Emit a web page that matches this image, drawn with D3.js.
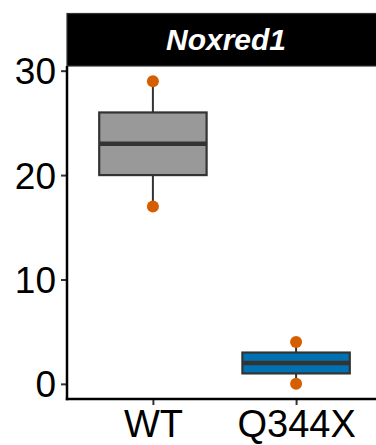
<!DOCTYPE html>
<html><head><meta charset="utf-8">
<script src="https://cdn.jsdelivr.net/npm/d3@7"></script>
<style>body{margin:0;background:#fff}svg{display:block}</style>
</head><body>
<svg id="c" width="376" height="445"></svg>
<script>
const categories = ["WT", "Q344X"];
const lowerWhisker = [17, 0];
const q1 = [20, 1];
const median = [23, 2];
const q3 = [26, 3];
const upperWhisker = [29, 4];
const points = [[29, 17], [4, 0]];
const fills = ["#999999", "#0072B2"];
const yTicks = [0, 10, 20, 30];
const stripLabel = "Noxred1";

(function () {
const svg = d3.select("#c");
const FAM = "'Liberation Sans', Arial, Helvetica, sans-serif";
const pLeft = 67, pRight = 382, pTop = 66, pBottom = 399;
const x = d3.scaleLinear().domain([0.4, 2.6]).range([pLeft, pRight]);
const y = d3.scaleLinear().domain([-1.45, 30.45]).range([pBottom, pTop]);

// strip
svg.append("rect").attr("x", pLeft).attr("y", 13.5).attr("width", pRight - pLeft).attr("height", pTop - 13.5)
  .attr("fill", "#000").attr("stroke", "#333").attr("stroke-width", 1.2);
svg.append("text").attr("x", 226).attr("y", 50).attr("text-anchor", "middle")
  .attr("fill", "#fff")
  .style("font-family", FAM).style("font-size", "30px").style("font-weight", "bold").style("font-style", "italic")
  .text(stripLabel);

const bw = 0.75;
categories.forEach((c, i) => {
  const cx = x(i + 1);
  const g = svg.append("g");
  g.append("line").attr("x1", cx).attr("x2", cx).attr("y1", y(upperWhisker[i])).attr("y2", y(q3[i]))
    .attr("stroke", "#333").attr("stroke-width", 2);
  g.append("line").attr("x1", cx).attr("x2", cx).attr("y1", y(q1[i])).attr("y2", y(lowerWhisker[i]))
    .attr("stroke", "#333").attr("stroke-width", 2);
  g.append("rect").attr("x", x(i + 1 - bw / 2)).attr("width", x(i + 1 + bw / 2) - x(i + 1 - bw / 2))
    .attr("y", y(q3[i])).attr("height", y(q1[i]) - y(q3[i]))
    .attr("fill", fills[i]).attr("stroke", "#333").attr("stroke-width", 2.2);
  g.append("line").attr("x1", x(i + 1 - bw / 2)).attr("x2", x(i + 1 + bw / 2))
    .attr("y1", y(median[i])).attr("y2", y(median[i])).attr("stroke", "#333").attr("stroke-width", 4.5);
  points[i].forEach(v => {
    g.append("circle").attr("cx", cx).attr("cy", y(v)).attr("r", 6).attr("fill", "#D55E00");
  });
});

// axes
const ya = svg.append("g").attr("transform", `translate(${pLeft},0)`)
  .call(d3.axisLeft(y).tickValues(yTicks).tickSize(6).tickPadding(5).tickFormat(d3.format("d")));
ya.select(".domain").remove();
ya.selectAll(".tick line").attr("stroke", "#333").attr("stroke-width", 2);
ya.selectAll(".tick text").attr("fill", "#000").attr("dy", "0.35em")
  .style("font-family", FAM).style("font-size", "37px");
svg.append("line").attr("x1", pLeft).attr("x2", pLeft).attr("y1", pTop).attr("y2", pBottom + 1.2)
  .attr("stroke", "#000").attr("stroke-width", 2.5);

const xa = svg.append("g").attr("transform", `translate(0,${pBottom})`)
  .call(d3.axisBottom(x).tickValues([1, 2]).tickSize(6).tickPadding(4).tickFormat(d => categories[d - 1]));
xa.select(".domain").remove();
xa.selectAll(".tick line").attr("stroke", "#333").attr("stroke-width", 2);
xa.selectAll(".tick text").attr("fill", "#000").attr("dy", null).attr("y", 38)
  .style("font-family", FAM).style("font-size", "38px");
svg.append("line").attr("x1", pLeft - 1.2).attr("x2", pRight).attr("y1", pBottom).attr("y2", pBottom)
  .attr("stroke", "#000").attr("stroke-width", 2.5);
})();
</script>
</body></html>
